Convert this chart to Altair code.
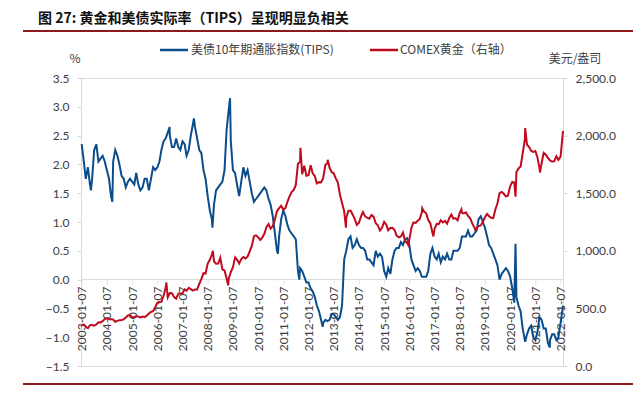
import altair as alt
import pandas as pd

BLUE = "#0B4C8C"
RED = "#C00A1E"
DARKRED = "#8E1B1B"

# ---- data (monthly, Jan..Dec) ----
tips_monthly = [
    2.35, 2.05, 1.75, 1.95, 1.65, 1.75, 2.25, 2.35, 2.05, 2.10, 2.15, 2.05,   # 2003
    1.90, 1.75, 1.45, 2.05, 2.25, 2.15, 2.00, 1.80, 1.75, 1.60, 1.70, 1.75,   # 2004
    1.70, 1.65, 1.85, 1.65, 1.55, 1.60, 1.75, 1.75, 1.55, 1.75, 1.95, 1.90,   # 2005
    1.95, 2.05, 2.25, 2.40, 2.45, 2.55, 2.50, 2.30, 2.30, 2.45, 2.30, 2.25,   # 2006
    2.40, 2.35, 2.15, 2.25, 2.50, 2.70, 2.65, 2.45, 2.25, 2.20, 1.90, 1.75,   # 2007
    1.45, 1.20, 1.05, 1.30, 1.55, 1.60, 1.65, 1.70, 1.90, 2.60, 2.95, 2.40,   # 2008
    1.90, 1.85, 1.65, 1.45, 1.70, 1.95, 1.80, 1.90, 1.70, 1.50, 1.35, 1.40,   # 2009
    1.45, 1.50, 1.55, 1.60, 1.55, 1.40, 1.30, 1.10, 0.80, 0.50, 0.75, 1.05,   # 2010
    1.20, 1.10, 0.95, 0.85, 0.80, 0.75, 0.70, 0.15, 0.20, 0.15, 0.05, -0.05,  # 2011
    -0.05, -0.15, -0.20, -0.30, -0.45, -0.55, -0.70, -0.75, -0.70, -0.72, -0.70, -0.60,  # 2012
    -0.60, -0.65, -0.70, -0.65, -0.45, 0.35, 0.50, 0.70, 0.75, 0.55, 0.60, 0.70,  # 2013
    0.60, 0.55, 0.55, 0.50, 0.35, 0.35, 0.30, 0.25, 0.50, 0.40, 0.45, 0.40,   # 2014
    0.15, 0.05, 0.20, 0.10, 0.35, 0.50, 0.55, 0.55, 0.65, 0.60, 0.70, 0.72,   # 2015
    0.60, 0.35, 0.25, 0.15, 0.20, 0.15, 0.05, 0.05, 0.05, 0.15, 0.45, 0.55,   # 2016
    0.40, 0.35, 0.45, 0.30, 0.40, 0.35, 0.45, 0.35, 0.35, 0.50, 0.50, 0.50,   # 2017
    0.55, 0.75, 0.75, 0.75, 0.85, 0.75, 0.75, 0.80, 0.85, 1.05, 1.10, 1.00,   # 2018
    0.90, 0.75, 0.60, 0.55, 0.45, 0.35, 0.25, 0.00, 0.10, 0.15, 0.20, 0.15,   # 2019
    0.05, -0.15, -0.40, -0.30, -0.45, -0.55, -0.85, -1.05, -0.95, -0.85, -0.80, -1.00,  # 2020
    -1.05, -0.90, -0.65, -0.70, -0.85, -0.85, -1.10, -1.05, -0.95, -0.95, -1.05, -1.00,  # 2021
    -0.75,  # 2022-01
]
gold_monthly = [
    356, 359, 340, 328, 355, 356, 351, 360, 379, 378, 389, 407,          # 2003
    414, 405, 406, 404, 384, 392, 398, 400, 405, 420, 439, 442,          # 2004
    424, 423, 434, 429, 422, 430, 424, 437, 456, 470, 476, 510,          # 2005
    549, 555, 557, 610, 676, 596, 633, 632, 598, 585, 628, 629,          # 2006
    631, 665, 655, 679, 667, 655, 665, 665, 712, 754, 806, 803,          # 2007
    889, 922, 968, 909, 888, 889, 939, 839, 829, 760, 760, 816,          # 2008
    858, 943, 924, 890, 928, 946, 934, 949, 996, 1043, 1127, 1134,       # 2009
    1118, 1095, 1113, 1148, 1205, 1232, 1193, 1215, 1271, 1343, 1370, 1391,  # 2010
    1356, 1372, 1424, 1473, 1510, 1529, 1572, 1756, 1772, 1665, 1739, 1652,  # 2011
    1656, 1742, 1673, 1650, 1585, 1596, 1594, 1630, 1744, 1760, 1722, 1684,  # 2012
    1671, 1627, 1593, 1487, 1414, 1343, 1286, 1347, 1349, 1316, 1275, 1225,  # 2013
    1244, 1300, 1336, 1299, 1287, 1279, 1311, 1296, 1239, 1222, 1176, 1200,  # 2014
    1251, 1227, 1178, 1198, 1199, 1181, 1131, 1117, 1125, 1159, 1086, 1068,  # 2015
    1097, 1200, 1246, 1242, 1260, 1276, 1337, 1340, 1326, 1266, 1238, 1157,  # 2016
    1192, 1234, 1231, 1266, 1246, 1260, 1236, 1283, 1314, 1280, 1283, 1265,  # 2017
    1331, 1331, 1325, 1334, 1303, 1282, 1238, 1202, 1198, 1215, 1220, 1250,  # 2018
    1291, 1320, 1300, 1286, 1284, 1359, 1413, 1500, 1511, 1495, 1471, 1480,  # 2019
    1560, 1598, 1592, 1683, 1715, 1732, 1847, 1968, 1921, 1900, 1867, 1858,  # 2020
    1866, 1808, 1718, 1760, 1850, 1834, 1807, 1785, 1775, 1777, 1821, 1790,  # 2021
    1817,  # 2022-01
]
monthly_dates = [f"{y}-{m:02d}-01" for y in range(2003, 2022) for m in range(1, 13)] + ["2022-01-01"]

# spikes / extremes
tips_extra_dates = ["2003-05-15", "2004-03-20", "2006-06-28", "2007-06-15", "2008-03-10",
                    "2008-11-20", "2010-10-15", "2011-08-20", "2012-07-25", "2020-03-19",
                    "2020-08-06", "2021-07-30", "2022-02-05"]
tips_extra_values = [1.55, 1.35, 2.65, 2.80, 0.90,
                     3.15, 0.45, 0.00, -0.82, 0.62,
                     -1.08, -1.18, -0.45]
gold_extra_dates = ["2006-05-12", "2008-03-17", "2008-10-24", "2011-09-06", "2012-10-05",
                    "2013-06-27", "2015-12-17", "2016-07-06", "2016-12-15", "2018-01-25",
                    "2018-08-16", "2020-03-19", "2020-08-06", "2021-03-08", "2022-02-05"]
gold_extra_values = [725, 1000, 700, 1895, 1790,
                     1200, 1050, 1370, 1125, 1360,
                     1175, 1470, 2065, 1680, 2040]

tips_ticks = [-1.5, -1.0, -0.5, 0.0, 0.5, 1.0, 1.5, 2.0, 2.5, 3.0, 3.5]
gold_ticks = [0, 500, 1000, 1500, 2000, 2500]
tick_labels_text = [f"{y}-01-07" for y in range(2003, 2023)]

tips_df = pd.DataFrame({"date": monthly_dates + tips_extra_dates,
                        "tips": tips_monthly + tips_extra_values}).sort_values("date")
gold_df = pd.DataFrame({"date": monthly_dates + gold_extra_dates,
                        "gold": gold_monthly + gold_extra_values}).sort_values("date")
ticks_df = pd.DataFrame({"date": tick_labels_text, "label": tick_labels_text})

W, H = 482, 288
LABEL_FONT = "Lato"
CJK = "Noto Sans CJK SC"
AXIS_GRAY = "#D9D9D9"
LABEL_COLOR = "#404040"
ZERO_Y = H * 3.5 / 5.0

x_scale = alt.Scale(domain=[alt.DateTime(year=2002, month=12, date=22, utc=True),
                            alt.DateTime(year=2022, month=2, date=5, utc=True)])
x_enc = alt.X("date:T", scale=x_scale, axis=None)

# x axis drawn at the 0.0 level of the left axis: baseline, yearly ticks and labels
zero_line = alt.Chart(pd.DataFrame({"zero": [0.0]})).mark_rule(
    color=AXIS_GRAY, strokeWidth=1).encode(
    y=alt.Y("zero:Q", scale=alt.Scale(domain=[-1.5, 3.5], nice=False), axis=None),
    x=alt.value(0), x2=alt.value(W))

tick_marks = alt.Chart(ticks_df).mark_tick(
    color=AXIS_GRAY, thickness=1, size=5, orient="vertical", yOffset=2.5).encode(
    x=x_enc, y=alt.value(ZERO_Y))

tick_labels = alt.Chart(ticks_df).mark_text(
    angle=270, align="right", baseline="middle", fontSize=12, font=LABEL_FONT,
    color=LABEL_COLOR, dx=-7).encode(
    x=x_enc, y=alt.value(ZERO_Y), text=alt.Text("label:N"))

tips_line = alt.Chart(tips_df).mark_line(color=BLUE, strokeWidth=2).encode(
    x=x_enc,
    y=alt.Y("tips:Q", scale=alt.Scale(domain=[-1.5, 3.5], nice=False),
            axis=alt.Axis(values=tips_ticks, format=".1f", grid=False, title=None,
                          labelFontSize=12, labelFont=LABEL_FONT, labelColor=LABEL_COLOR,
                          domainColor=AXIS_GRAY, tickColor=AXIS_GRAY, tickSize=4,
                          labelPadding=8)),
)

gold_line = alt.Chart(gold_df).mark_line(color=RED, strokeWidth=2).encode(
    x=x_enc,
    y=alt.Y("gold:Q", scale=alt.Scale(domain=[0, 2500], nice=False),
            axis=alt.Axis(orient="right", values=gold_ticks, format=",.1f", grid=False,
                          title=None, labelFontSize=12, labelFont=LABEL_FONT,
                          labelColor=LABEL_COLOR, domainColor=AXIS_GRAY, tickColor=AXIS_GRAY,
                          tickSize=4, labelPadding=8)),
)

one = pd.DataFrame({"a": [0]})


def text_layer(txt, x, y, size=12, weight="normal", align="left", color=LABEL_COLOR, font=CJK):
    return alt.Chart(one).mark_text(text=txt, align=align, baseline="middle", fontSize=size,
                                    fontWeight=weight, color=color, font=font).encode(
        x=alt.value(x), y=alt.value(y))


def rule_layer(x1, x2, y, color, width):
    return alt.Chart(one).mark_rule(color=color, strokeWidth=width).encode(
        x=alt.value(x1), x2=alt.value(x2), y=alt.value(y))


chart = alt.layer(
    zero_line, tick_marks, tick_labels,
    tips_line, gold_line,
    text_layer("图 27:  黄金和美债实际率（TIPS）呈现明显负相关", -43, -59, size=14,
               weight="bold", color="#111111"),
    rule_layer(-58, 552, -47, DARKRED, 2),
    rule_layer(-58, 552, 306, DARKRED, 2),
    rule_layer(79, 107, -28, BLUE, 2.5),
    text_layer("美债10年期通胀指数(TIPS)", 110, -28),
    rule_layer(289, 317, -28, RED, 2.5),
    text_layer("COMEX黄金（右轴）", 319, -28),
    text_layer("%", -6, -19, align="center"),
    text_layer("美元/盎司", 494, -19, align="center"),
).resolve_scale(y="independent").properties(
    width=W, height=H,
    autosize=alt.AutoSizeParams(type="none"),
    padding={"left": 73, "top": 70, "right": 70, "bottom": 19},
).configure_view(stroke=None).configure(background="white")

chart.save("out.html", embed_options={"renderer": "svg", "actions": False})
